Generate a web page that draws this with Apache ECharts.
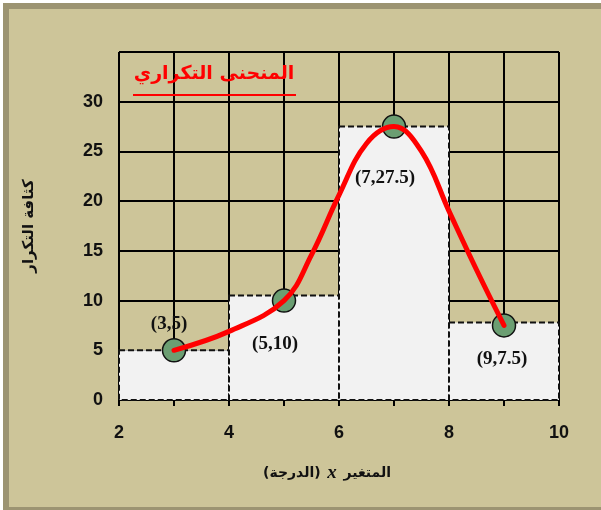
<!DOCTYPE html>
<html>
<head>
<meta charset="utf-8">
<script src="https://cdn.jsdelivr.net/npm/echarts@6/dist/echarts.min.js"></script>
<style>html,body{margin:0;padding:0;background:#fff}#c{width:601px;height:510px}</style>
</head>
<body>
<div id="c"></div>
<script>
// Histogram classes (lower bound, upper bound) and bar heights
const binStart = [2, 4, 6, 8];
const binEnd = [4, 6, 8, 10];
const binHeight = [5, 10.5, 27.5, 7.8];
// Frequency points (class midpoints, frequency)
const midX = [3, 5, 7, 9];
const freqY = [5, 10, 27.5, 7.5];
const pointLabels = ['(3,5)', '(5,10)', '(7,27.5)', '(9,7.5)'];
// Hand-drawn red frequency curve, positions
const curveX = [3, 4, 5, 5.5, 6, 6.5, 7, 7.5, 8, 8.5, 9];
const curveY = [5, 6.9, 10, 14.6, 20.6, 25.8, 27.5, 25, 19, 13.1, 7.5];
const xTicks = [2, 4, 6, 8, 10];
const yTicks = [0, 5, 10, 15, 20, 25, 30];

const tan = '#cdc599';
const frame = '#9c9472';
const chart = echarts.init(document.getElementById('c'));

const barData = binStart.map((s, i) => [s, binEnd[i], binHeight[i]]);
const pts = midX.map((x, i) => [x, freqY[i]]);
const curve = curveX.map((x, i) => [x, curveY[i]]);
const labelCfg = [
  {position: 'top', distance: 4, offset: [-5, 0]},
  {position: 'bottom', distance: 22, offset: [-9, 0]},
  {position: 'bottom', distance: 30, offset: [-9, 0]},
  {position: 'bottom', distance: 12, offset: [-2, 0]}
];

chart.setOption({
  backgroundColor: tan,
  animation: false,
  grid: {left: 119, right: 42, top: 52, bottom: 110},
  xAxis: {
    type: 'value', min: 2, max: 10, interval: 1,
    axisLine: {show: true, lineStyle: {color: '#000', width: 2}},
    axisTick: {show: true, length: 6, lineStyle: {color: '#000', width: 2}},
    axisLabel: {
      margin: 24, color: '#111', fontFamily: 'Liberation Sans', fontWeight: 'bold', fontSize: 18,
      formatter: v => xTicks.includes(v) ? String(v) : ''
    },
    splitLine: {show: true, lineStyle: {color: '#000', width: 2}}
  },
  yAxis: {
    type: 'value', min: 0, max: 35, interval: 5,
    axisLine: {show: false}, axisTick: {show: false},
    axisLabel: {
      margin: 16, color: '#111', fontFamily: 'Liberation Sans', fontWeight: 'bold', fontSize: 18,
      formatter: v => yTicks.includes(v) ? String(v) : ''
    },
    splitLine: {show: true, lineStyle: {color: '#000', width: 2}},
    name: 'كثافة التكرار', nameLocation: 'middle', nameRotate: 90, nameGap: 82,
    nameTextStyle: {fontFamily: 'DejaVu Sans', fontWeight: 'bold', fontSize: 15, color: '#111'}
  },
  series: [
    {
      type: 'custom', z: 3,
      encode: {x: [0, 1], y: 2},
      data: barData,
      renderItem: (params, api) => {
        const p0 = api.coord([api.value(0), api.value(2)]);
        const p1 = api.coord([api.value(1), 0]);
        return {
          type: 'rect',
          shape: {x: p0[0], y: p0[1], width: p1[0] - p0[0], height: p1[1] - p0[1]},
          style: {fill: '#f2f2f2', stroke: '#111', lineWidth: 2, lineDash: [6, 3]}
        };
      }
    },
    {
      type: 'scatter', z: 4,
      symbol: 'circle', symbolSize: 23,
      itemStyle: {color: '#6b9e72', borderColor: '#111', borderWidth: 1.5, opacity: 1},
      data: pts.map((p, i) => ({
        value: p,
        label: Object.assign({
          show: true, formatter: pointLabels[i],
          fontFamily: 'Liberation Serif', fontWeight: 'bold', fontSize: 19, color: '#111'
        }, labelCfg[i])
      }))
    },
    {
      type: 'line', z: 5,
      data: curve, smooth: 0.4, showSymbol: false,
      lineStyle: {color: '#ff0000', width: 5, cap: 'round'}
    }
  ],
  graphic: [
    {type: 'rect', shape: {x: 0, y: 0, width: 601, height: 3}, style: {fill: '#fff'}, silent: true},
    {type: 'rect', shape: {x: 0, y: 0, width: 3, height: 510}, style: {fill: '#fff'}, silent: true},
    {type: 'rect', shape: {x: 3, y: 3, width: 598, height: 6}, style: {fill: frame}, silent: true},
    {type: 'rect', shape: {x: 3, y: 3, width: 6, height: 507}, style: {fill: frame}, silent: true},
    {type: 'rect', shape: {x: 3, y: 507, width: 598, height: 3}, style: {fill: frame}, silent: true},
    {
      type: 'text', x: 214, y: 74, z: 10,
      style: {text: 'المنحنى التكراري', fill: '#ff0000', font: 'bold 19px "DejaVu Sans"', align: 'center', verticalAlign: 'middle'}
    },
    {type: 'line', z: 10, shape: {x1: 133, y1: 95, x2: 296, y2: 95}, style: {stroke: '#ff0000', lineWidth: 2}},
    {
      type: 'text', x: 327, y: 473, z: 10,
      style: {
        text: '{a|(الدرجة)}  {b|x}  {a|المتغير}',
        align: 'center', verticalAlign: 'middle',
        rich: {
          a: {fontFamily: 'DejaVu Sans', fontWeight: 'bold', fontSize: 14, fill: '#111'},
          b: {fontFamily: 'Liberation Serif', fontWeight: 'bold', fontStyle: 'italic', fontSize: 19, fill: '#111'}
        }
      }
    }
  ]
});
</script>
</body>
</html>
